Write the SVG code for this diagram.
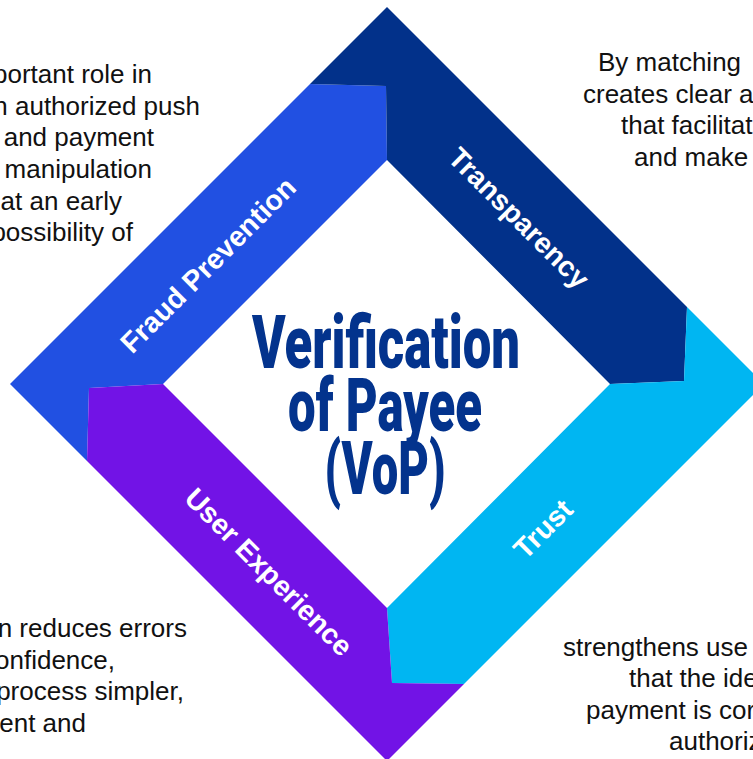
<svg xmlns="http://www.w3.org/2000/svg" width="753" height="759" viewBox="0 0 753 759">
<style>
.lbl{font-family:"Liberation Sans",Arial,sans-serif;font-weight:700;font-size:28.5px;fill:#ffffff;text-anchor:middle}
.body{font-family:"Liberation Sans",Arial,sans-serif;font-size:26px;fill:#111111}
.title{font-family:Roboto,"Liberation Sans",sans-serif;font-weight:900;font-size:74px;fill:#03338D;text-anchor:middle}
</style>
<rect width="753" height="759" fill="#ffffff"/>
<g id="fraud-prevention">
<polygon points="87,461 10,384 310,84 386,86 387,160 163,384 89,388" fill="#2150E2"/>
<text class="lbl" transform="translate(215,272) rotate(-45)">Fraud Prevention</text>
</g>
<g id="transparency">
<polygon points="310,84 387,7 687,307 684,381 610,384 387,160 386,86" fill="#02318A"/>
<text class="lbl" transform="translate(512,225) rotate(45)">Transparency</text>
</g>
<g id="trust">
<polygon points="687,307 764,384 464,684 392,683 387,608 610,384 684,381" fill="#00B6F2"/>
<text class="lbl" transform="translate(550,536) rotate(-45)">Trust</text>
</g>
<g id="user-experience">
<polygon points="464,684 387,761 87,461 89,388 163,384 387,608 392,683" fill="#7213E6"/>
<text class="lbl" transform="translate(262,579) rotate(45)">User Experience</text>
</g>
<g id="center-title">
<text class="title" x="386" y="368" textLength="268" lengthAdjust="spacingAndGlyphs">Verification</text>
<text class="title" x="385" y="431" textLength="194" lengthAdjust="spacingAndGlyphs">of Payee</text>
<text class="title" x="385" y="494" textLength="121" lengthAdjust="spacingAndGlyphs">(VoP)</text>
</g>
<g id="text-fraud" class="body" text-anchor="end">
<text x="152" y="83">portant role in</text>
<text x="200" y="115">n authorized push</text>
<text x="154" y="146">and payment</text>
<text x="152" y="178">manipulation</text>
<text x="122" y="210">at an early</text>
<text x="133" y="241">possibility of</text>
</g>
<g id="text-transparency" class="body">
<text x="598" y="71">By matching</text>
<text x="583" y="103">creates clear a</text>
<text x="621" y="134">that facilitat</text>
<text x="634" y="166">and make</text>
</g>
<g id="text-user" class="body" text-anchor="end">
<text x="187" y="637">n reduces errors</text>
<text x="115" y="669">onfidence,</text>
<text x="184" y="700">process simpler,</text>
<text x="86" y="732">ent and</text>
</g>
<g id="text-trust" class="body">
<text x="563" y="656">strengthens use</text>
<text x="629" y="687">that the ide</text>
<text x="586" y="719">payment is cor</text>
<text x="669" y="750">authoriz</text>
</g>
</svg>
